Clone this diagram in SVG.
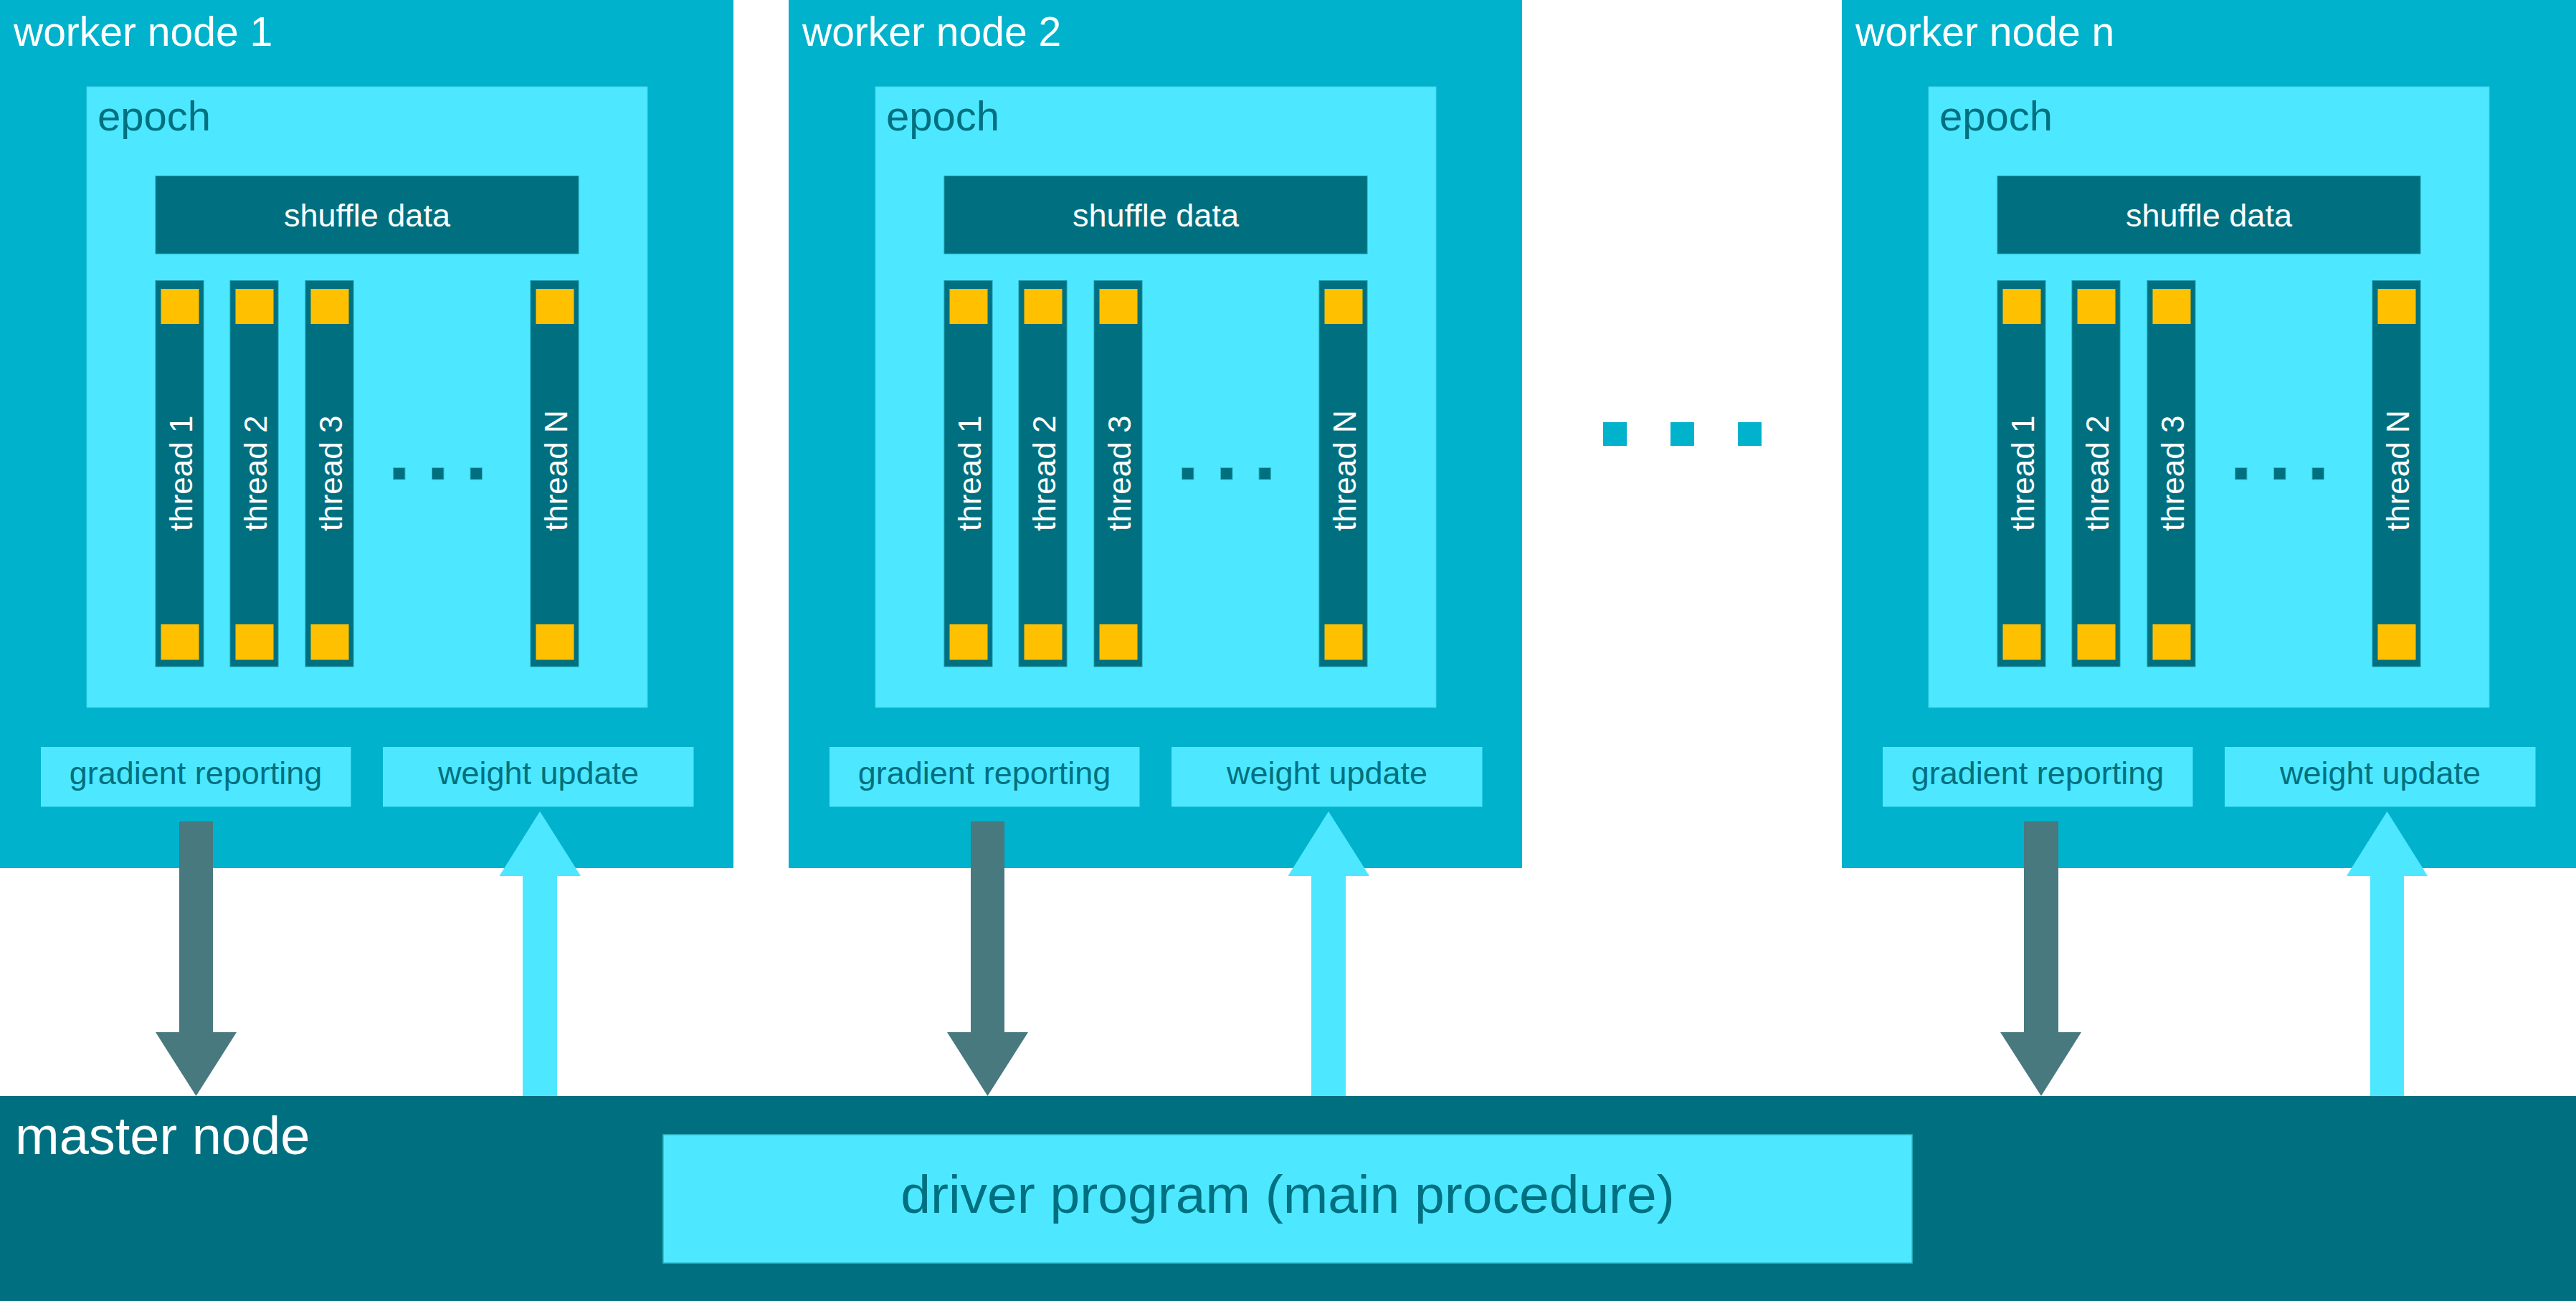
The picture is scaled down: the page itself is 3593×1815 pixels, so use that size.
<svg xmlns="http://www.w3.org/2000/svg" width="3593" height="1815" viewBox="0 0 3593 1815">
<defs>
<style>
text{font-family:"Liberation Sans",Arial,sans-serif}
.worker{fill:#00B2CC}
.epoch{fill:#4DE8FF;stroke:#3fd0e6;stroke-width:1}
.dark{fill:#007080;stroke:#1a98aa;stroke-width:1}
.yel{fill:#FFC000}
.lbox{fill:#4DE8FF}
.title{fill:#ffffff;font-size:57px}
.epl{fill:#007080;font-size:58px}
.shuf{fill:#ffffff;font-size:45px;text-anchor:middle}
.thr{fill:#ffffff;font-size:44px}
.blab{fill:#007080;font-size:45px;text-anchor:middle}
.sdot{fill:#007080;stroke:#2fb8c8;stroke-width:1}
.bdot{fill:#00B2CC}
.up{fill:#4DE8FF}
.down{fill:#48797F}
</style>
<g id="threads">
<rect class="dark" x="217" y="391.5" width="67" height="538.5"/>
<rect class="yel" x="224.5" y="403" width="53" height="49"/>
<rect class="yel" x="224.5" y="871" width="53" height="49.5"/>
<rect class="dark" x="321" y="391.5" width="67" height="538.5"/>
<rect class="yel" x="328.5" y="403" width="53" height="49"/>
<rect class="yel" x="328.5" y="871" width="53" height="49.5"/>
<rect class="dark" x="426" y="391.5" width="67" height="538.5"/>
<rect class="yel" x="433.5" y="403" width="53" height="49"/>
<rect class="yel" x="433.5" y="871" width="53" height="49.5"/>
<rect class="dark" x="740" y="391.5" width="67" height="538.5"/>
<rect class="yel" x="747.5" y="403" width="53" height="49"/>
<rect class="yel" x="747.5" y="871" width="53" height="49.5"/>
<text class="thr" transform="translate(268,741) rotate(-90)">thread 1</text>
<text class="thr" transform="translate(372,741) rotate(-90)">thread 2</text>
<text class="thr" transform="translate(477,741) rotate(-90)">thread 3</text>
<text class="thr" transform="translate(791,741) rotate(-90)">thread N</text>
<rect class="sdot" x="548.5" y="652.5" width="16.5" height="16.5"/>
<rect class="sdot" x="602.5" y="652.5" width="16.5" height="16.5"/>
<rect class="sdot" x="656" y="652.5" width="16.5" height="16.5"/>
</g>
</defs>

<g id="worker1">
<rect class="worker" x="0" y="0" width="1023" height="1211"/>
<text class="title" x="19" y="64">worker node 1</text>
<rect class="epoch" x="121" y="121" width="782" height="866"/>
<text class="epl" x="136" y="182">epoch</text>
<rect class="dark" x="217" y="245.5" width="590" height="108.5"/>
<text class="shuf" x="512" y="316">shuffle data</text>
<use href="#threads"/>
<rect class="lbox" x="57" y="1042" width="432.5" height="83.5"/>
<text class="blab" x="273" y="1094">gradient reporting</text>
<rect class="lbox" x="534" y="1042" width="433.5" height="83.5"/>
<text class="blab" x="751" y="1094">weight update</text>
</g>

<g id="worker2" transform="translate(1100,0)">
<rect class="worker" x="0" y="0" width="1023" height="1211"/>
<text class="title" x="19" y="64">worker node 2</text>
<rect class="epoch" x="121" y="121" width="782" height="866"/>
<text class="epl" x="136" y="182">epoch</text>
<rect class="dark" x="217" y="245.5" width="590" height="108.5"/>
<text class="shuf" x="512" y="316">shuffle data</text>
<use href="#threads"/>
<rect class="lbox" x="57" y="1042" width="432.5" height="83.5"/>
<text class="blab" x="273" y="1094">gradient reporting</text>
<rect class="lbox" x="534" y="1042" width="433.5" height="83.5"/>
<text class="blab" x="751" y="1094">weight update</text>
</g>

<g id="workern" transform="translate(2569,0)">
<rect class="worker" x="0" y="0" width="1024" height="1211"/>
<text class="title" x="19" y="64">worker node n</text>
<rect class="epoch" x="121" y="121" width="782" height="866"/>
<text class="epl" x="136" y="182">epoch</text>
<rect class="dark" x="217" y="245.5" width="590" height="108.5"/>
<text class="shuf" x="512" y="316">shuffle data</text>
<use href="#threads"/>
<rect class="lbox" x="57" y="1042" width="432.5" height="83.5"/>
<text class="blab" x="273" y="1094">gradient reporting</text>
<rect class="lbox" x="534" y="1042" width="433.5" height="83.5"/>
<text class="blab" x="751" y="1094">weight update</text>
</g>

<g id="ellipsis">
<rect class="bdot" x="2236" y="589" width="33" height="33"/>
<rect class="bdot" x="2330" y="589" width="33" height="33"/>
<rect class="bdot" x="2424" y="589" width="33" height="33"/>
</g>

<g id="master">
<rect fill="#007080" x="0" y="1529" width="3593" height="286"/>
<text fill="#ffffff" font-size="74" x="21" y="1610">master node</text>
</g>

<g id="driver">
<rect fill="#4DE8FF" stroke="#2fb8c8" stroke-width="1.5" x="925" y="1583" width="1742" height="179"/>
<text fill="#007080" font-size="75" text-anchor="middle" x="1796" y="1692">driver program (main procedure)</text>
</g>

<g id="connectors">
<polygon class="down" points="250,1146 297,1146 297,1440 330,1440 273.5,1529 217,1440 250,1440"/>
<polygon class="up" points="753,1132 810,1222 777,1222 777,1529 729,1529 729,1222 696.5,1222"/>
<polygon class="down" points="1354,1146 1401,1146 1401,1440 1434,1440 1377.5,1529 1321,1440 1354,1440"/>
<polygon class="up" points="1853,1132 1910,1222 1877,1222 1877,1529 1829,1529 1829,1222 1796.5,1222"/>
<polygon class="down" points="2823,1146 2871,1146 2871,1440 2903,1440 2847,1529 2790,1440 2823,1440"/>
<polygon class="up" points="3329.5,1132 3386,1222 3353,1222 3353,1529 3306,1529 3306,1222 3273,1222"/>
</g>
</svg>
